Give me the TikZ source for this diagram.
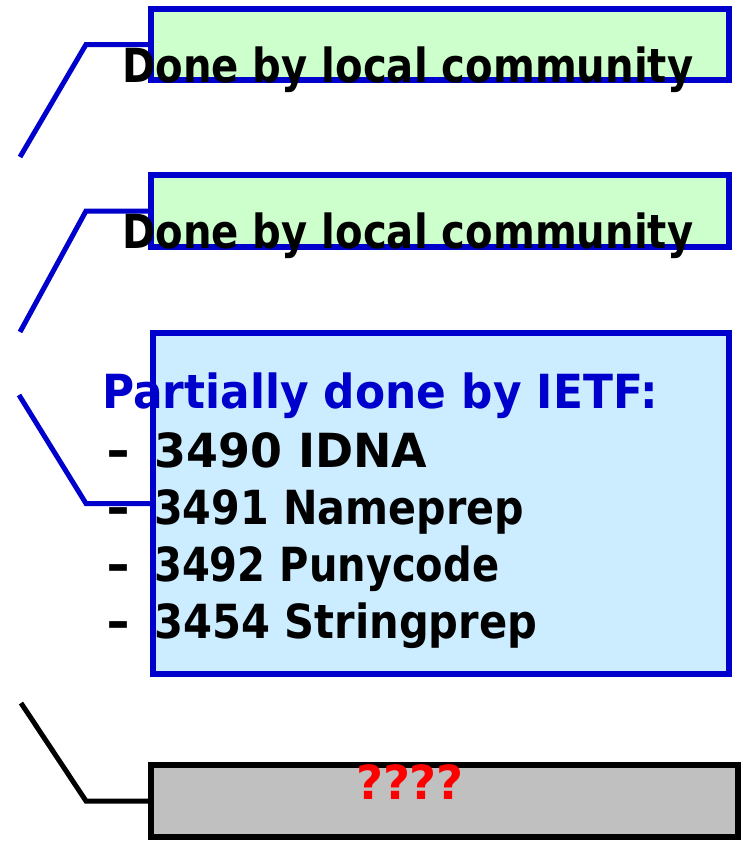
\documentclass[tikz,border=0pt]{standalone}
\usepackage{fontspec}
\usepackage{graphicx}
\newfontfamily\comic{DejaVu Sans}
\definecolor{boxblue}{HTML}{0000CC}
\definecolor{greenfill}{HTML}{CCFFCC}
\definecolor{bluefill}{HTML}{CCECFF}
\definecolor{grayfill}{HTML}{C0C0C0}
\newcommand\fitw[2]{\resizebox{#1}{\height}{#2}}
\begin{document}
\begin{tikzpicture}[x=1pt,y=-1pt,
  panel/.style={draw=boxblue,line width=5.5pt,inner sep=0pt,minimum width=#1},
  callout/.style={line width=5pt,line join=miter},
  lbl/.style={font=\comic\bfseries\fontsize{47}{56}\selectfont,inner sep=0pt,anchor=base west}]
\useasboundingbox (0,0) rectangle (741,844);
% boxes
\node[panel=578pt,fill=greenfill,minimum height=71pt] (b1) at (440,44.5) {};
\node[panel=578pt,fill=greenfill,minimum height=72pt] (b2) at (440,211) {};
\node[panel=576pt,fill=bluefill,minimum height=341pt] (b3) at (441,503.5) {};
\node[panel=587pt,draw=black,fill=grayfill,minimum height=72pt] (b4) at (444.5,801) {};
% callout ends
\coordinate (c1) at (20,157);
\coordinate (c2) at (20,332);
\coordinate (c3) at (19,395);
\coordinate (c4) at (21,703);
\draw[callout,boxblue] (c1) -- (86,44.5) -- (b1.west);
\draw[callout,boxblue] (c2) -- (86,211) -- (b2.west);
\draw[callout,boxblue] (c3) -- (86,503.5) -- (b3.west);
\draw[callout,black] (c4) -- (86,801) -- (b4.west);
% texts
\node[lbl] (t1) at (122,82) {\fitw{571pt}{Done by local community}};
\node[lbl] (t2) at (122,248) {\fitw{571pt}{Done by local community}};
\node[lbl,text=boxblue] (t3) at (102,408) {\fitw{556pt}{Partially done by IETF:}};
\node[lbl] (d4) at (106,467) {\fitw{24pt}{-}};
\node[lbl] (d5) at (106,524) {\fitw{24pt}{-}};
\node[lbl] (d6) at (106,581) {\fitw{24pt}{-}};
\node[lbl] (d7) at (106,638) {\fitw{24pt}{-}};
\node[lbl] (t4) at (154,467) {\fitw{273pt}{3490 IDNA}};
\node[lbl] (t5) at (154,524) {\fitw{370pt}{3491 Nameprep}};
\node[lbl] (t6) at (154,581) {\fitw{345pt}{3492 Punycode}};
\node[lbl] (t7) at (154,638) {\fitw{383pt}{3454 Stringprep}};
\node[lbl,text=red,anchor=base] (t8) at (410,799) {\fitw{108pt}{????}};
\end{tikzpicture}
\end{document}
